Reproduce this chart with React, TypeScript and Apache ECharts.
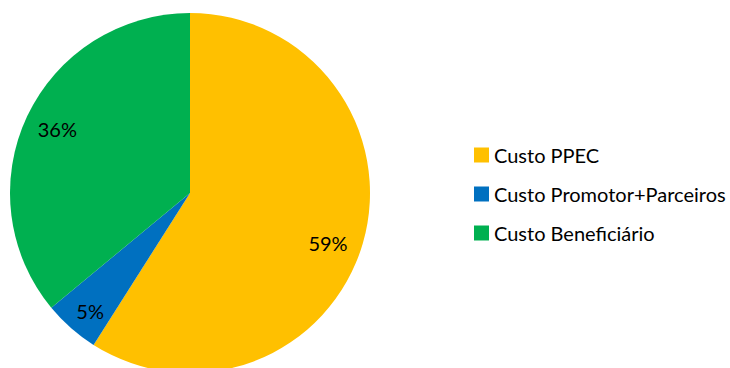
import React, { useEffect, useRef } from "react";
import * as echarts from "echarts";

const categories = ["Custo PPEC", "Custo Promotor+Parceiros", "Custo Beneficiário"];
const values = [59, 5, 36];
const colors = ["#FFC000", "#0070C0", "#00B050"];
const labelOffsets = [[-7, 8], [0, 5], [4, 0]];

const FONT = "Lato";

export default function App() {
  const ref = useRef<HTMLDivElement>(null);
  useEffect(() => {
    if (!ref.current) return;
    const chart = echarts.init(ref.current, null, { renderer: "svg" });
    const data = categories.map((name, i) => ({ name, value: values[i], itemStyle: { color: colors[i] } }));
    chart.setOption({
      animation: false,
      backgroundColor: "#ffffff",
      legend: {
        orient: "vertical",
        left: 469,
        top: 140,
        itemWidth: 15,
        itemHeight: 15,
        itemGap: 19,
        icon: "rect",
        selectedMode: false,
        data: categories,
        textStyle: { fontFamily: FONT, fontSize: 20, color: "#000000" },
      },
      series: [
        {
          type: "pie",
          center: [190, 193],
          radius: [0, 180],
          startAngle: 90,
          clockwise: true,
          silent: true,
          label: { show: false },
          labelLine: { show: false },
          itemStyle: { borderWidth: 0 },
          data,
        },
        {
          type: "pie",
          center: [190, 193],
          radius: [116, 180],
          startAngle: 90,
          clockwise: true,
          silent: true,
          legendHoverLink: false,
          label: {
            show: true,
            position: "inside",
            formatter: (p: any) => p.value + "%",
            fontFamily: FONT,
            fontSize: 20,
            color: "#000000",
          },
          labelLine: { show: false },
          itemStyle: { color: "rgba(0,0,0,0)", borderWidth: 0 },
          data: categories.map((name, i) => ({ name, value: values[i], label: { offset: labelOffsets[i] } })),
        },
      ],
    });
    return () => chart.dispose();
  }, []);
  return <div ref={ref} style={{ position: "fixed", left: 0, top: 0, width: 730, height: 368 }} />;
}
